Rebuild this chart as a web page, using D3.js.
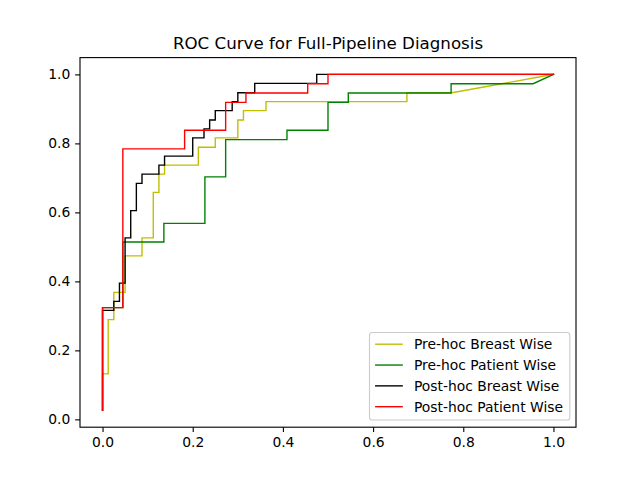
<!DOCTYPE html>
<html>
<head>
<meta charset="utf-8">
<script src="https://cdn.jsdelivr.net/npm/d3@7"></script>
<style>
  html, body { margin: 0; padding: 0; background: #fff; }
  text { font-family: "DejaVu Sans", sans-serif; }
</style>
</head>
<body>
<svg id="chart" width="640" height="480"></svg>
<script>
// ---- data ----
const seriesNames = ["Pre-hoc Breast Wise", "Pre-hoc Patient Wise", "Post-hoc Breast Wise", "Post-hoc Patient Wise"];
const seriesColors = ["#bfbf00", "#008000", "#000000", "#ff0000"];

const preBreastFpr = [0, 0, 0.0125, 0.0125, 0.025, 0.025, 0.05, 0.05, 0.0875, 0.0875, 0.1125, 0.1125, 0.125, 0.125, 0.1375, 0.1375, 0.2125, 0.2125, 0.25, 0.25, 0.3, 0.3, 0.3125, 0.3125, 0.3625, 0.3625, 0.675, 0.675, 0.775, 1.0];
const preBreastTpr = [0.026, 0.132, 0.132, 0.289, 0.289, 0.368, 0.368, 0.474, 0.474, 0.526, 0.526, 0.658, 0.658, 0.711, 0.711, 0.737, 0.737, 0.789, 0.789, 0.816, 0.816, 0.868, 0.868, 0.895, 0.895, 0.921, 0.921, 0.947, 0.947, 1.0];

const prePatientFpr = [0, 0, 0.045, 0.045, 0.136, 0.136, 0.227, 0.227, 0.273, 0.273, 0.409, 0.409, 0.5, 0.5, 0.545, 0.545, 0.773, 0.773, 0.955, 1.0];
const prePatientTpr = [0.027, 0.324, 0.324, 0.514, 0.514, 0.568, 0.568, 0.703, 0.703, 0.811, 0.811, 0.838, 0.838, 0.919, 0.919, 0.946, 0.946, 0.973, 0.973, 1.0];

const postBreastFpr = [0, 0, 0.025, 0.025, 0.0375, 0.0375, 0.05, 0.05, 0.0625, 0.0625, 0.075, 0.075, 0.0875, 0.0875, 0.125, 0.125, 0.1375, 0.1375, 0.2, 0.2, 0.225, 0.225, 0.2375, 0.2375, 0.25, 0.25, 0.2875, 0.2875, 0.3, 0.3, 0.3375, 0.3375, 0.475, 0.475, 1.0];
const postBreastTpr = [0.026, 0.316, 0.316, 0.342, 0.342, 0.395, 0.395, 0.526, 0.526, 0.605, 0.605, 0.684, 0.684, 0.711, 0.711, 0.737, 0.737, 0.763, 0.763, 0.816, 0.816, 0.842, 0.842, 0.868, 0.868, 0.895, 0.895, 0.921, 0.921, 0.947, 0.947, 0.974, 0.974, 1.0, 1.0];

const postPatientFpr = [0, 0, 0.045, 0.045, 0.182, 0.182, 0.273, 0.273, 0.318, 0.318, 0.455, 0.455, 0.5, 0.5, 1.0];
const postPatientTpr = [0.027, 0.324, 0.324, 0.784, 0.784, 0.838, 0.838, 0.919, 0.919, 0.946, 0.946, 0.973, 0.973, 1.0, 1.0];

const xTicks = [0.0, 0.2, 0.4, 0.6, 0.8, 1.0];
const yTicks = [0.0, 0.2, 0.4, 0.6, 0.8, 1.0];
const titleText = "ROC Curve for Full-Pipeline Diagnosis";

(function () {
// ---- build series ----
const fprs = [preBreastFpr, prePatientFpr, postBreastFpr, postPatientFpr];
const tprs = [preBreastTpr, prePatientTpr, postBreastTpr, postPatientTpr];
const series = seriesNames.map((name, i) => ({
  name, color: seriesColors[i],
  points: fprs[i].map((xv, j) => ({ x: xv, y: tprs[i][j] }))
}));

// ---- layout (matplotlib default figure 640x480 @ 100 dpi) ----
const PT = 100 / 72;
const axL = 80, axR = 576, axT = 57.6, axB = 427.2;
const svg = d3.select("#chart");

const allX = series.flatMap(s => s.points.map(p => p.x));
const allY = series.flatMap(s => s.points.map(p => p.y));
const [x0, x1] = d3.extent(allX), [y0, y1] = d3.extent(allY);
const mx = (x1 - x0) * 0.05, my = (y1 - y0) * 0.05;

const x = d3.scaleLinear().domain([x0 - mx, x1 + mx]).range([axL, axR]);
const y = d3.scaleLinear().domain([y0 - my, y1 + my]).range([axB, axT]);

const fontSize = 10 * PT;
const tickLen = 3.5 * PT;
const spineW = 0.8 * PT;

// axes
const xAxis = d3.axisBottom(x).tickValues(xTicks).tickFormat(d3.format(".1f"))
  .tickSize(tickLen).tickPadding(3.5 * PT);
const yAxis = d3.axisLeft(y).tickValues(yTicks).tickFormat(d3.format(".1f"))
  .tickSize(tickLen).tickPadding(3.5 * PT);

const gx = svg.append("g").attr("transform", `translate(0,${axB})`).call(xAxis);
const gy = svg.append("g").attr("transform", `translate(${axL},0)`).call(yAxis);
[gx, gy].forEach(g => {
  g.select(".domain").remove();
  g.selectAll(".tick line").attr("stroke", "#000").attr("stroke-width", spineW);
  g.selectAll(".tick text").attr("fill", "#000").attr("font-size", fontSize)
    .attr("font-family", "DejaVu Sans, sans-serif");
});

// clip
svg.append("clipPath").attr("id", "clip").append("rect")
  .attr("x", axL).attr("y", axT).attr("width", axR - axL).attr("height", axB - axT);

const line = d3.line().x(d => x(d.x)).y(d => y(d.y));
svg.append("g").attr("clip-path", "url(#clip)")
  .selectAll("path").data(series).join("path")
  .attr("d", d => line(d.points))
  .attr("fill", "none")
  .attr("stroke", d => d.color)
  .attr("stroke-width", 1 * PT)
  .attr("stroke-linejoin", "miter")
  .attr("stroke-linecap", "square");

// spines
svg.append("rect").attr("x", axL).attr("y", axT)
  .attr("width", axR - axL).attr("height", axB - axT)
  .attr("fill", "none").attr("stroke", "#000").attr("stroke-width", spineW);

// title
svg.append("text").attr("x", (axL + axR) / 2).attr("y", axT - 6 * PT)
  .attr("text-anchor", "middle").attr("font-size", 12 * PT).attr("fill", "#000")
  .text(titleText);

// legend
const lgX = 369.5, lgY = 332.5, lgW = 200.3, lgH = 87.5;
const lg = svg.append("g");
lg.append("rect").attr("x", lgX).attr("y", lgY).attr("width", lgW).attr("height", lgH)
  .attr("rx", 0.2 * fontSize).attr("ry", 0.2 * fontSize)
  .attr("fill", "#fff").attr("fill-opacity", 0.8)
  .attr("stroke", "#cccccc").attr("stroke-width", spineW);
const rowY = i => lgY + 11.7 + i * 1.5 * fontSize;
const items = lg.selectAll("g.item").data(series).join("g").attr("class", "item");
items.append("line")
  .attr("x1", lgX + 0.4 * fontSize).attr("x2", lgX + 2.4 * fontSize)
  .attr("y1", (d, i) => rowY(i)).attr("y2", (d, i) => rowY(i))
  .attr("stroke", d => d.color).attr("stroke-width", 1 * PT);
items.append("text")
  .attr("x", lgX + 3.2 * fontSize).attr("y", (d, i) => rowY(i))
  .attr("dy", "0.36em")
  .attr("font-size", fontSize).attr("fill", "#000")
  .text(d => d.name);
})();
</script>
</body>
</html>
